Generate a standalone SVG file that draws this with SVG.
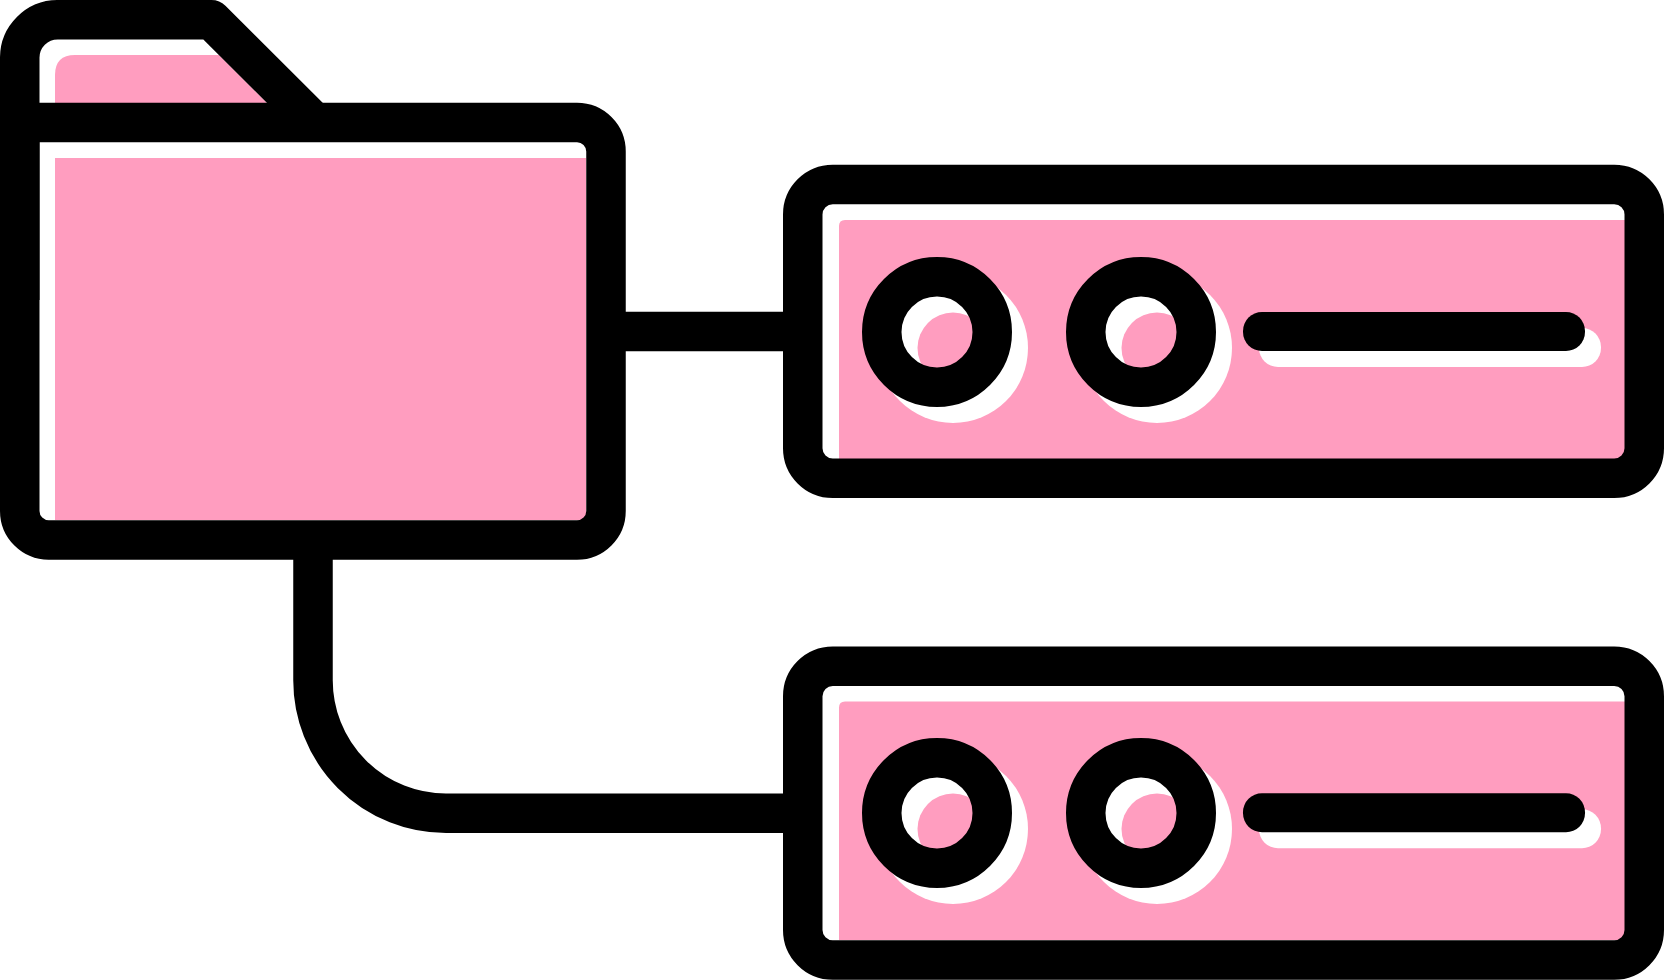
<svg xmlns="http://www.w3.org/2000/svg" width="1664" height="980" viewBox="0 0 1664 980">
<style>
.pink{fill:#ff9dbf}
.shadow{fill:#fff}
.line{fill:none;stroke:#000;stroke-width:39.500}
.bar{fill:#000}
</style>
<rect width="1664" height="980" fill="#fff"/>
<g id="connectors">
<path class="line" d="M606 331.500H783"/>
<path class="line" d="M313 540V680A133 133 0 0 0 446 813.250H783"/>
</g>
<g id="folder">
<path class="pink" d="M55 110V75Q55 55 75 55H219L274 110Z"/>
<rect class="pink" x="55" y="158" width="531" height="362"/>
<path class="line" stroke-linejoin="round" d="M19.750 300V58A38 38 0 0 1 58 19.750H211.500L310 118"/>
<path class="line" d="M19.750 122.500H577A29 29 0 0 1 606 151.500V511A29 29 0 0 1 577 540H49A29 29 0 0 1 19.750 511V122.500Z"/>
</g>
<g id="server-1">
<path class="pink" d="M839 459V226Q839 220 845 220H1625V459Z"/>
<circle class="shadow" cx="953" cy="348" r="75"/>
<circle class="pink" cx="953" cy="348" r="35.500"/>
<circle class="shadow" cx="1157" cy="348" r="75"/>
<circle class="pink" cx="1157" cy="348" r="35.500"/>
<rect class="shadow" x="1259" y="328" width="342" height="39" rx="19"/>
<rect class="line" x="802.750" y="184.500" width="841.500" height="293.750" rx="30"/>
<circle class="line" cx="937" cy="332" r="55.250"/>
<circle class="line" cx="1141" cy="332" r="55.250"/>
<rect class="bar" x="1243" y="312" width="342" height="39" rx="19"/>
</g>
<g id="server-2">
<path class="pink" d="M839 940V707.500Q839 701.500 845 701.500H1625V940Z"/>
<circle class="shadow" cx="953" cy="829" r="75"/>
<circle class="pink" cx="953" cy="829" r="35.500"/>
<circle class="shadow" cx="1157" cy="829" r="75"/>
<circle class="pink" cx="1157" cy="829" r="35.500"/>
<rect class="shadow" x="1259" y="809.250" width="342" height="39" rx="19"/>
<rect class="line" x="802.750" y="666.250" width="841.500" height="293.750" rx="30"/>
<circle class="line" cx="937" cy="813" r="55.250"/>
<circle class="line" cx="1141" cy="813" r="55.250"/>
<rect class="bar" x="1243" y="793.250" width="342" height="39" rx="19"/>
</g>
</svg>
